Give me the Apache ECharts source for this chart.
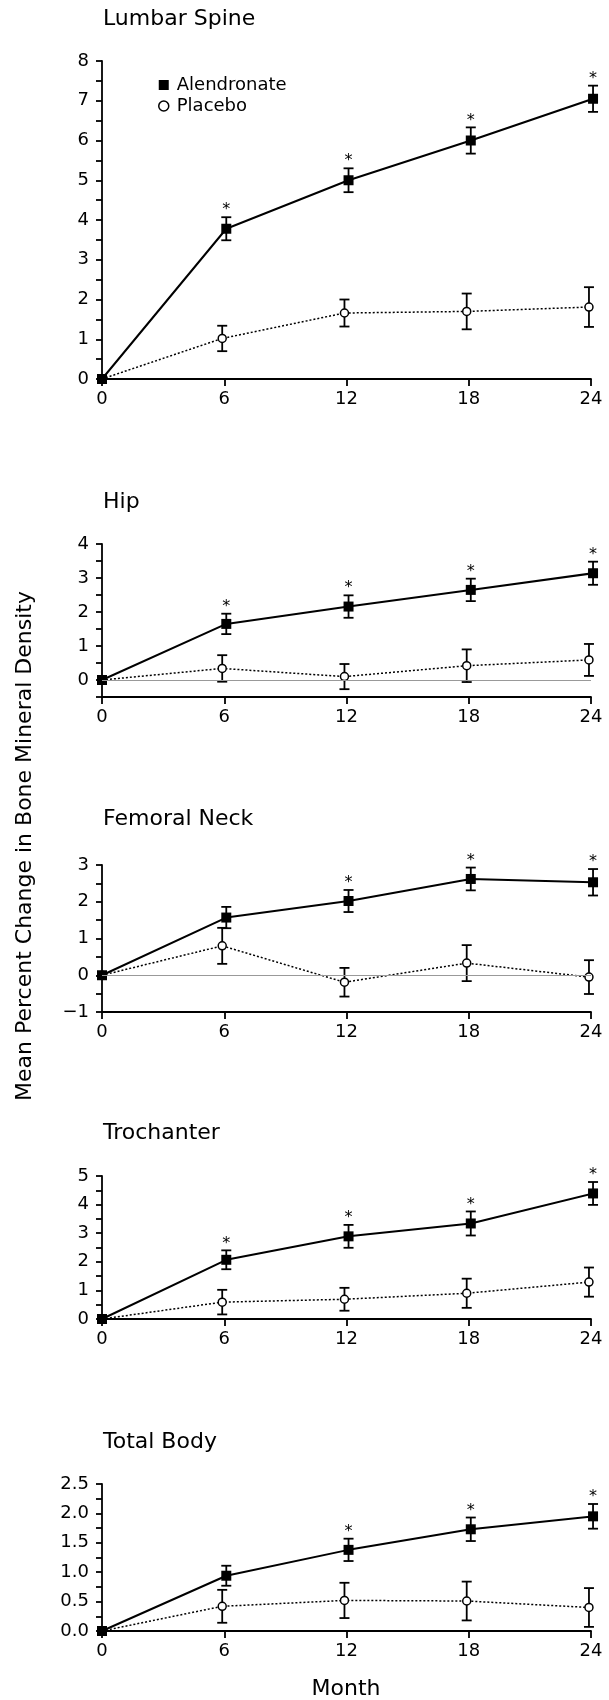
<!DOCTYPE html>
<html>
<head>
<meta charset="utf-8">
<script src="https://cdn.jsdelivr.net/npm/echarts@6/dist/echarts.min.js"></script>
<style>
html,body{margin:0;padding:0;background:#fff;}
#chart{width:609px;height:1700px;}
</style>
</head>
<body>
<div id="chart"></div>
<script>
// ---------------- DATA ----------------
const months = [0, 6, 12, 18, 24];
const xTicks = ['0', '6', '12', '18', '24'];
const seriesNames = ['Alendronate', 'Placebo'];
const panelTitles = ['Lumbar Spine', 'Hip', 'Femoral Neck', 'Trochanter', 'Total Body'];

const lumbarAlen   = [0, 3.78, 5.00, 6.00, 7.05];
const lumbarAlenSE = [0, 0.29, 0.30, 0.33, 0.33];
const lumbarPlac   = [0, 1.02, 1.66, 1.70, 1.81];
const lumbarPlacSE = [0, 0.32, 0.34, 0.45, 0.50];
const lumbarSig    = [false, true, true, true, true];

const hipAlen   = [0, 1.65, 2.16, 2.65, 3.14];
const hipAlenSE = [0, 0.30, 0.33, 0.33, 0.34];
const hipPlac   = [0, 0.34, 0.10, 0.42, 0.59];
const hipPlacSE = [0, 0.39, 0.37, 0.48, 0.47];
const hipSig    = [false, true, true, true, true];

const femAlen   = [0, 1.57, 2.02, 2.62, 2.53];
const femAlenSE = [0, 0.29, 0.30, 0.31, 0.36];
const femPlac   = [0, 0.80, -0.19, 0.33, -0.05];
const femPlacSE = [0, 0.49, 0.39, 0.49, 0.46];
const femSig    = [false, false, true, true, true];

const trochAlen   = [0, 2.07, 2.89, 3.34, 4.39];
const trochAlenSE = [0, 0.33, 0.40, 0.42, 0.40];
const trochPlac   = [0, 0.59, 0.69, 0.90, 1.29];
const trochPlacSE = [0, 0.43, 0.40, 0.51, 0.51];
const trochSig    = [false, true, true, true, true];

const tbAlen   = [0, 0.94, 1.38, 1.73, 1.95];
const tbAlenSE = [0, 0.17, 0.19, 0.20, 0.21];
const tbPlac   = [0, 0.42, 0.52, 0.51, 0.40];
const tbPlacSE = [0, 0.28, 0.30, 0.33, 0.33];
const tbSig    = [false, false, true, true, true];

// y-axis ranges / tick steps
const yMin      = [0, -0.5, -1, 0, 0];
const yMax      = [8, 4, 3, 5, 2.5];
const yTickStep = [0.5, 0.5, 0.5, 0.5, 0.25];
const yLabelStep= [1, 1, 1, 1, 0.5];
const yDecimals = [0, 0, 0, 0, 1];

const yAxisTitle = 'Mean Percent Change in Bone Mineral Density';
const xAxisTitle = 'Month';

// ---------------- LAYOUT ----------------
const FONT = 'DejaVu Sans';
const layout = [
  {top: 61,   bottom: 379,  titleY: 20},
  {top: 544,  bottom: 697,  titleY: 503},
  {top: 865,  bottom: 1012, titleY: 820},
  {top: 1176, bottom: 1319, titleY: 1134},
  {top: 1484, bottom: 1631, titleY: 1443}
];
const GRID_LEFT = 102, GRID_RIGHT = 18;
const DODGE = 0.1;

const panelData = [
  [lumbarAlen, lumbarAlenSE, lumbarPlac, lumbarPlacSE, lumbarSig],
  [hipAlen, hipAlenSE, hipPlac, hipPlacSE, hipSig],
  [femAlen, femAlenSE, femPlac, femPlacSE, femSig],
  [trochAlen, trochAlenSE, trochPlac, trochPlacSE, trochSig],
  [tbAlen, tbAlenSE, tbPlac, tbPlacSE, tbSig]
];

function errRender(params, api) {
  const x = api.value(0), lo = api.value(1), hi = api.value(2);
  const t = api.coord([x, hi]), b = api.coord([x, lo]);
  const hw = 5;
  const st = {stroke: '#000', lineWidth: 1.8};
  return {type: 'group', children: [
    {type: 'line', shape: {x1: t[0], y1: t[1], x2: b[0], y2: b[1]}, style: st},
    {type: 'line', shape: {x1: t[0] - hw, y1: t[1], x2: t[0] + hw, y2: t[1]}, style: st},
    {type: 'line', shape: {x1: b[0] - hw, y1: b[1], x2: b[0] + hw, y2: b[1]}, style: st}
  ]};
}
function starRender(params, api) {
  const p = api.coord([api.value(0), api.value(1)]);
  return {type: 'text', x: p[0], y: p[1] - 7, style: {
    text: '*', fill: '#000', font: '16px "' + FONT + '"', align: 'center', verticalAlign: 'middle'
  }};
}

const grids = [], xAxes = [], yAxes = [], series = [], titles = [];
layout.forEach((L, i) => {
  grids.push({left: GRID_LEFT, right: GRID_RIGHT, top: L.top, height: L.bottom - L.top});
  titles.push({text: panelTitles[i], left: 103, top: L.titleY - 12, padding: 0,
    textStyle: {fontFamily: FONT, fontSize: 22, fontWeight: 'normal', color: '#000'}});
  xAxes.push({
    type: 'value', gridIndex: i, min: 0, max: 24, interval: 6,
    axisLine: {show: true, onZero: false, lineStyle: {color: '#000', width: 1.8}},
    axisTick: {show: true, length: 7, lineStyle: {color: '#000', width: 1.8}},
    axisLabel: {show: true, margin: 11, color: '#000', fontFamily: FONT, fontSize: 18,
      formatter: v => xTicks[months.indexOf(v)] ?? ''},
    splitLine: {show: false}
  });
  const step = yLabelStep[i], dec = yDecimals[i];
  yAxes.push({
    type: 'value', gridIndex: i, min: yMin[i], max: yMax[i], interval: yTickStep[i],
    axisLine: {show: true, onZero: false, lineStyle: {color: '#000', width: 1.8}},
    axisTick: {show: true, length: 6, lineStyle: {color: '#000', width: 1.8}},
    axisLabel: {show: true, margin: 13, color: '#000', fontFamily: FONT, fontSize: 18,
      formatter: v => {
        const r = v / step;
        if (Math.abs(r - Math.round(r)) > 1e-6) return '';
        const s = Math.abs(v).toFixed(dec);
        return v < 0 ? '\u2212' + s : s;
      }},
    splitLine: {show: false}
  });

  const [alen, alenSE, plac, placSE, sig] = panelData[i];
  const xa = m => m > 0 ? m + DODGE : m;
  const xp = m => m > 0 ? m - DODGE : m;

  const errP = [], errA = [], stars = [];
  months.forEach((m, k) => {
    if (placSE[k] > 0) errP.push([xp(m), plac[k] - placSE[k], plac[k] + placSE[k]]);
    if (alenSE[k] > 0) errA.push([xa(m), alen[k] - alenSE[k], alen[k] + alenSE[k]]);
    if (sig[k]) stars.push([xa(m), alen[k] + alenSE[k]]);
  });

  series.push({type: 'custom', name: 'errP' + i, xAxisIndex: i, yAxisIndex: i, clip: false,
    renderItem: errRender, data: errP, encode: {x: 0, y: [1, 2]}, silent: true, z: 2});
  series.push({type: 'custom', name: 'errA' + i, xAxisIndex: i, yAxisIndex: i, clip: false,
    renderItem: errRender, data: errA, encode: {x: 0, y: [1, 2]}, silent: true, z: 2});

  const placSeries = {
    type: 'line', name: seriesNames[1], xAxisIndex: i, yAxisIndex: i, clip: false,
    data: months.map((m, k) => [xp(m), plac[k]]),
    symbol: 'circle', symbolSize: 8, showAllSymbol: true,
    lineStyle: {color: '#000', width: 1.5, type: [2, 2]},
    itemStyle: {color: '#fff', borderColor: '#000', borderWidth: 1.5, opacity: 1},
    z: 3, animation: false
  };
  if (i === 1 || i === 2) {
    placSeries.markLine = {silent: true, symbol: 'none', label: {show: false},
      lineStyle: {color: '#999', width: 1, type: 'solid'}, data: [{yAxis: 0}]};
  }
  series.push(placSeries);
  series.push({
    type: 'line', name: seriesNames[0], xAxisIndex: i, yAxisIndex: i, clip: false,
    data: months.map((m, k) => [xa(m), alen[k]]),
    symbol: 'rect', symbolSize: 10, showAllSymbol: true,
    lineStyle: {color: '#000', width: 2, type: 'solid'},
    itemStyle: {color: '#000', borderWidth: 0},
    z: 4, animation: false
  });
  series.push({type: 'custom', name: 'star' + i, xAxisIndex: i, yAxisIndex: i, clip: false,
    renderItem: starRender, data: stars, encode: {x: 0, y: 1}, silent: true, z: 5});
});

const option = {
  animation: false,
  backgroundColor: '#fff',
  textStyle: {fontFamily: FONT, color: '#000'},
  title: titles,
  grid: grids,
  xAxis: xAxes,
  yAxis: yAxes,
  legend: {
    show: true, orient: 'vertical', left: 153, top: 71, itemWidth: 10, itemHeight: 10, itemGap: 3,
    selectedMode: false,
    textStyle: {fontFamily: FONT, fontSize: 18, color: '#000', padding: [0, 0, 0, 3]},
    data: [
      {name: seriesNames[0], icon: 'rect', itemStyle: {color: '#000', borderWidth: 0}},
      {name: seriesNames[1], icon: 'circle', itemStyle: {color: '#fff', borderColor: '#000', borderWidth: 1.5}}
    ]
  },
  graphic: [
    {type: 'text', x: 25, y: 846, rotation: Math.PI / 2,
      style: {text: yAxisTitle, font: '22px "' + FONT + '"', fill: '#000', align: 'center', verticalAlign: 'middle'}},
    {type: 'text', x: 346, y: 1689,
      style: {text: xAxisTitle, font: '22px "' + FONT + '"', fill: '#000', align: 'center', verticalAlign: 'middle'}}
  ],
  series: series
};

const chart = echarts.init(document.getElementById('chart'), null, {renderer: 'canvas', width: 609, height: 1700});
chart.setOption(option);
</script>
</body>
</html>
